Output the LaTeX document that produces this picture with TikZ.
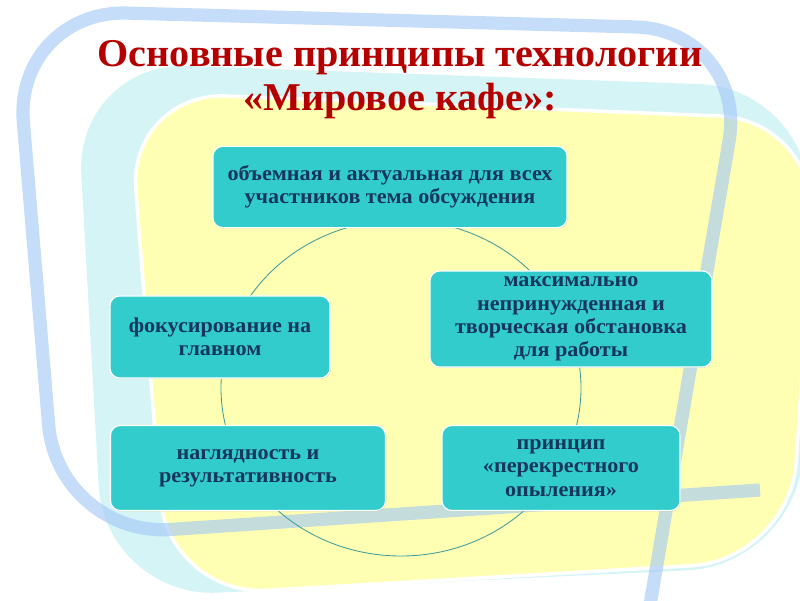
\documentclass[tikz,border=0pt]{standalone}
\usepackage{fontspec}
\setmainfont{Liberation Serif}
\newfontfamily\titleserif{Liberation Serif}[FakeStretch=1.02]
\newfontfamily\boxserif{Liberation Serif}[FakeStretch=1.05]
\usetikzlibrary{shadows}

\definecolor{bgyellow}{HTML}{FFFFB4}
\definecolor{bgcyan}{HTML}{D5F4F6}
\definecolor{bgblue}{HTML}{9EC6F5}
\definecolor{boxteal}{HTML}{33CCCC}
\definecolor{boxtext}{HTML}{17365D}
\definecolor{titlered}{HTML}{B50000}
\definecolor{ringteal}{HTML}{3E9C9C}

\tikzset{
  pbox/.style={draw=white, line width=0.8pt, fill=boxteal, rounded corners=7pt,
    text=boxtext, font=\boxserif\bfseries\fontsize{15}{16.6}\selectfont, align=center,
    inner sep=1pt, drop shadow={opacity=0.25, shadow xshift=0.6pt, shadow yshift=-0.6pt}},
  titletext/.style={text=titlered, font=\titleserif\bfseries\fontsize{28}{31.5}\selectfont, align=center},
  ring/.style={draw=ringteal, line width=0.6pt},
}

\begin{document}
\begin{tikzpicture}[x=0.025cm,y=-0.025cm]

\useasboundingbox (0,0) rectangle (800,600) ;

% background
\begin{scope}
\clip (0,0) rectangle (800,600) ;
\fill[bgcyan, rounded corners=80] (75,62) -- (812,88) -- (800,565) -- (105,598) -- cycle ;
\filldraw[fill=bgyellow, draw=white, line width=2.5pt, rounded corners=70] (128,92) -- (818,120) -- (790,560) -- (168,596) -- cycle ;
\draw[bgblue, opacity=0.6, line width=0.33cm, rounded corners=80] (760,490) -- (58,537) -- (14,10) -- (748,30) -- (650,605) ;
\end{scope}

\node[titletext] (title) at (400,80) {Основные принципы технологии\\«Мировое кафе»:} ;

\draw[ring] (401,388) ellipse [x radius=180, y radius=168] ;

\node[pbox, minimum width=8.85cm, minimum height=2.03cm] (theme) at (390,187)
  {объемная и актуальная для всех\\участников тема обсуждения} ;
\node[pbox, minimum width=7.05cm, minimum height=2.4cm] (mood) at (571,319)
  {максимально\\непринужденная и\\творческая обстановка\\для работы} ;
\node[pbox, minimum width=5.5cm, minimum height=2.05cm] (focus) at (220,337)
  {фокусирование на\\главном} ;
\node[pbox, minimum width=6.875cm, minimum height=2.125cm] (result) at (248,468)
  {наглядность и\\результативность} ;
\node[pbox, minimum width=5.95cm, minimum height=2.125cm] (pollen) at (561,468)
  {принцип\\«перекрестного\\опыления»} ;

\end{tikzpicture}
\end{document}
